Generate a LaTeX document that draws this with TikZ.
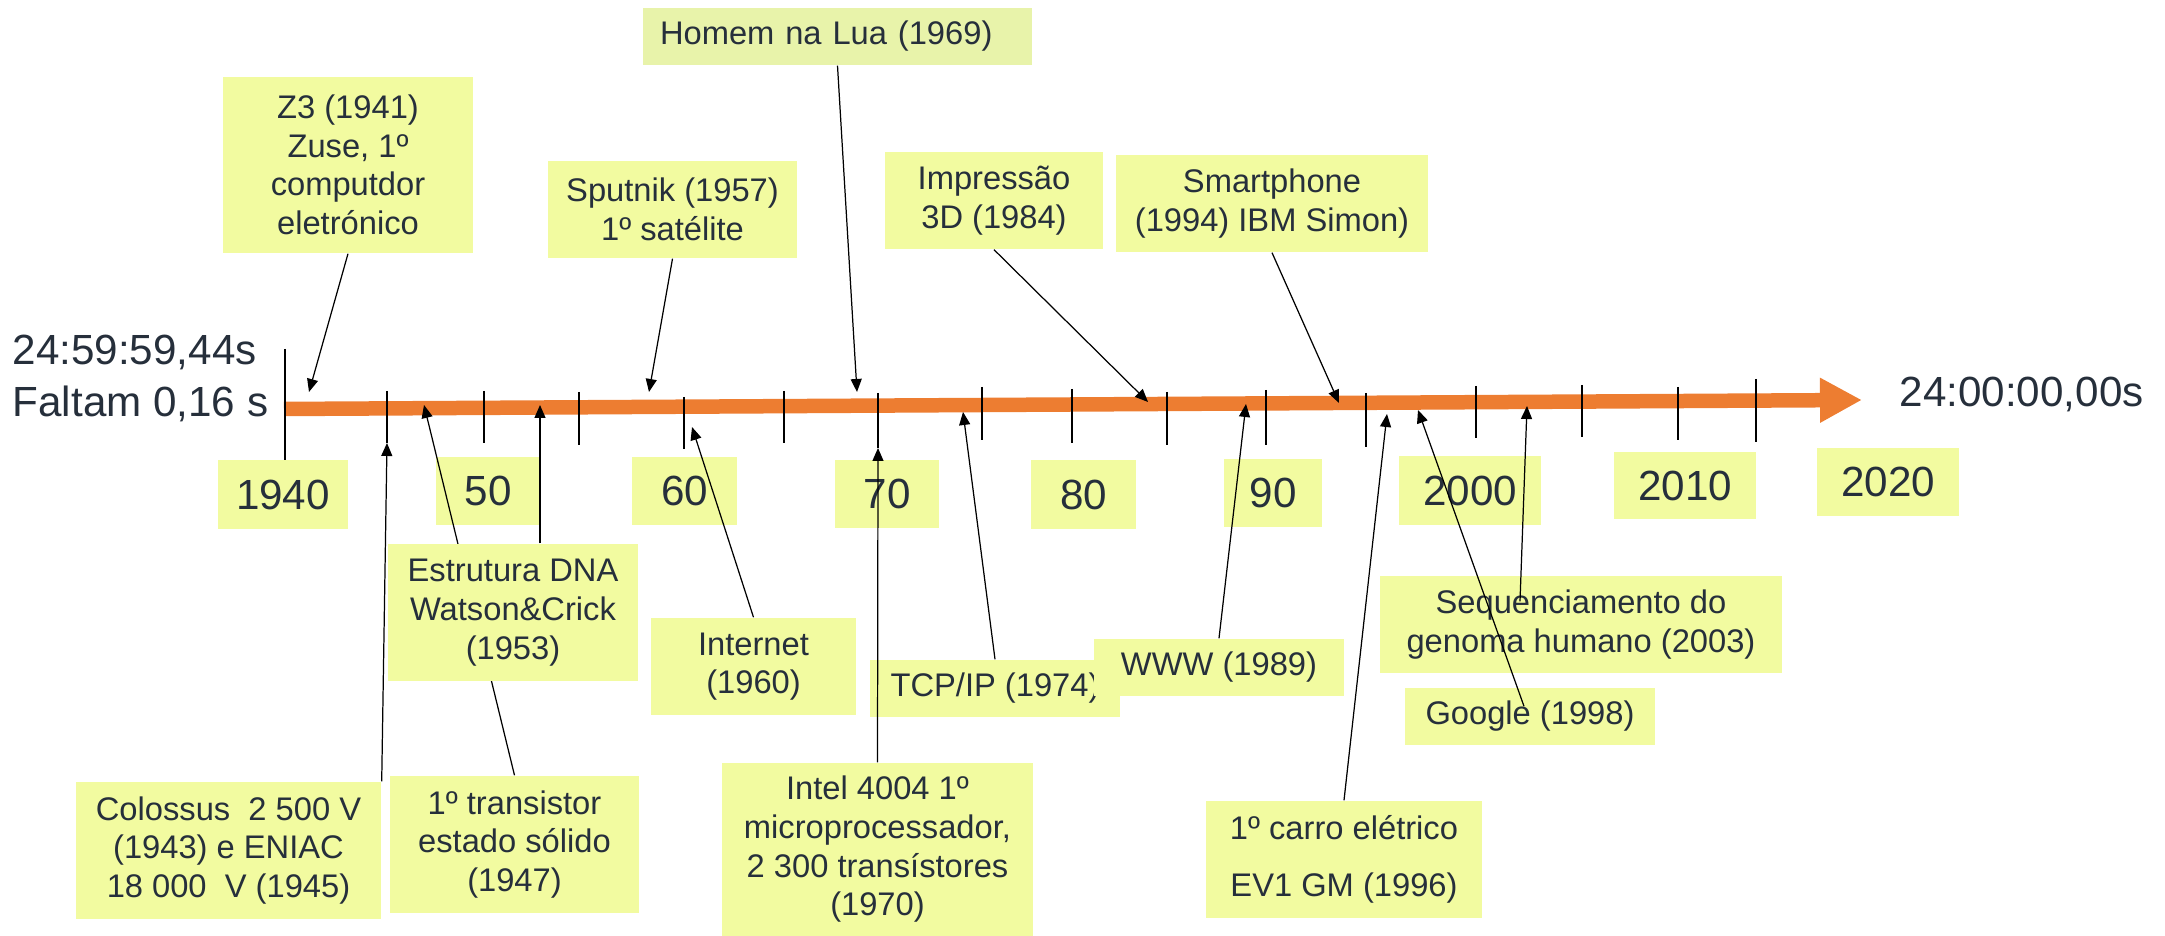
\documentclass[tikz,border=0pt]{standalone}
\usepackage{fontspec}
\setmainfont{Liberation Sans}
\usetikzlibrary{arrows.meta,calc}
\definecolor{amarelo}{RGB}{242,251,160}
\definecolor{amarelolua}{RGB}{232,243,170}
\definecolor{laranja}{RGB}{237,125,49}
\definecolor{texto}{RGB}{38,47,59}
\tikzset{>=Triangle,every node/.style={text=texto,font=\fontsize{9.3}{11}\selectfont},seta/.style={line width=.35pt,-{Triangle[length=1.3mm,width=1.1mm]}},marca/.style={line width=.5pt}}
\tikzset{caixa/.style args={#1/#2}{fill=amarelo,inner sep=0pt,align=center,minimum width=#1,minimum height=#2}}
\tikzset{ano/.style args={#1/#2}{caixa=#1/#2,font=\fontsize{12}{14}\selectfont},hora/.style={anchor=base west,inner sep=0pt,font=\fontsize{12}{14}\selectfont}}

\begin{document}
\begin{tikzpicture}
\useasboundingbox (0,0) rectangle (21.65,9.36);
\coordinate (inicio) at (2.84,5.27);\coordinate (fim) at (18.62,5.36);
\draw[laranja,line width=1.45mm,-{Triangle[length=4.2mm,width=4.2mm]}] (inicio)--(fim);
\draw[marca] (2.85,5.87)--(2.85,4.76);
\foreach \x/\a/\b in {3.87/5.45/4.93,4.84/5.45/4.93,5.79/5.44/4.91,6.84/5.39/4.87,7.84/5.45/4.93,8.78/5.43/4.88,9.82/5.49/4.96,10.72/5.47/4.93,11.67/5.44/4.91,12.66/5.46/4.91,13.66/5.43/4.89,14.76/5.50/4.98,15.82/5.51/4.99,16.78/5.49/4.96,17.56/5.57/4.94}\draw[marca] (\x,\a)--(\x,\b);
\node[hora] (tempo) at (0.12,5.71){24:59:59,44s};\node[hora] (faltam) at (0.12,5.19){Faltam 0,16 s};
\node[hora] (meianoite) at (18.99,5.29){24:00:00,00s};
\node[ano=13mm/6.9mm] (y1940) at (2.83,4.415){1940};\node[ano=10.4mm/6.8mm] (y50) at (4.88,4.45){50};\node[ano=10.5mm/6.8mm] (y60) at (6.845,4.45){60};
\node[ano=10.4mm/6.8mm] (y70) at (8.87,4.42){70};\node[ano=10.5mm/6.9mm] (y80) at (10.835,4.415){80};\node[ano=9.8mm/6.8mm] (y90) at (12.73,4.43){90};
\node[ano=14.2mm/6.9mm] (y2000) at (14.70,4.455){2000};\node[ano=14.2mm/6.7mm] (y2010) at (16.85,4.505){2010};\node[ano=14.2mm/6.8mm] (y2020) at (18.88,4.54){2020};
\node[caixa=25mm/17.6mm] (z3) at (3.48,7.71){Z3 (1941)\\Zuse, 1º\\computdor\\eletrónico};
\node[caixa=24.9mm/9.7mm] (sputnik) at (6.725,7.265){Sputnik (1957)\\1º satélite};
\node[caixa=38.9mm/5.7mm,fill=amarelolua,text width=35.5mm,inner xsep=1.7mm,align=left] (lua) at (8.375,8.995){Homem na Lua (1969)};
\node[caixa=21.8mm/9.7mm] (impressao) at (9.94,7.355){Impressão\\3D (1984)};\node[caixa=31.2mm/9.7mm] (smartphone) at (12.72,7.325){Smartphone\\(1994) IBM Simon)};
\node[caixa=20.5mm/9.7mm] (internet) at (7.535,2.695){Internet\\(1960)};\node[caixa=25mm/5.7mm] (tcp) at (9.95,2.475){TCP/IP (1974)};\node[caixa=25mm/5.7mm] (www) at (12.19,2.685){WWW (1989)};
\node[caixa=40.2mm/9.7mm] (genoma) at (15.81,3.115){Sequenciamento do\\genoma humano (2003)};\node[caixa=25mm/5.7mm] (google) at (15.30,2.195){Google (1998)};
\node[caixa=30.5mm/13.7mm] (colossus) at (2.285,0.855){Colossus\ \ 2 500 V\\(1943) e ENIAC\\18 000\ \ V (1945)};
\node[caixa=24.9mm/13.7mm] (transistor) at (5.145,0.915){1º transistor\\estado sólido\\(1947)};
\node[caixa=31.1mm/17.3mm] (intel) at (8.775,0.865){Intel 4004 1º\\microprocessador,\\2 300 transístores\\(1970)};
\node[caixa=27.6mm/11.7mm] (carro) at (13.44,0.765){1º carro elétrico\\[1.9mm]EV1 GM (1996)};
% Pontas das setas sobre o eixo do tempo
\coordinate (a1941) at (3.09,5.44);\coordinate (a1945) at (3.87,4.93);\coordinate (a1947) at (4.24,5.31);\coordinate (a1953) at (5.40,5.31);\coordinate (a1957) at (6.49,5.44);
\coordinate (a1960) at (6.92,5.09);\coordinate (a1969) at (8.57,5.44);\coordinate (a1970) at (8.78,4.88);\coordinate (a1974) at (9.63,5.24);\coordinate (a1984) at (11.48,5.34);
\coordinate (a1989) at (12.46,5.32);\coordinate (a1994) at (13.39,5.33);\coordinate (a1996) at (13.87,5.22);\coordinate (a1998) at (14.18,5.26);\coordinate (a2003) at (15.27,5.30);
\draw[seta] (z3.south)--(a1941);\draw[seta] (sputnik.south)--(a1957);\draw[seta] (lua.south)--(a1969);\draw[seta] (impressao.south)--(a1984);\draw[seta] (smartphone.south)--(a1994);
\draw[seta] (colossus.north east)--(a1945);\draw[seta] (transistor.north)--(a1947);\draw[seta] (internet.north)--(a1960);\draw[seta] (intel.north)--(a1970);\draw[seta] (tcp.north)--(a1974);
\draw[seta] (www.north)--(a1989);\draw[seta] (carro.north)--(a1996);\draw[seta] ([xshift=-.6mm,yshift=-1.9mm]google.north)--(a1998);\draw[seta] ([xshift=-6.1mm,yshift=-2.6mm]genoma.north)--(a2003);
\node[caixa=25mm/13.7mm] (dna) at (5.13,3.235){Estrutura DNA\\Watson\&Crick\\(1953)};\draw[seta] (dna.north -| a1953)--(a1953);
\end{tikzpicture}
\end{document}
